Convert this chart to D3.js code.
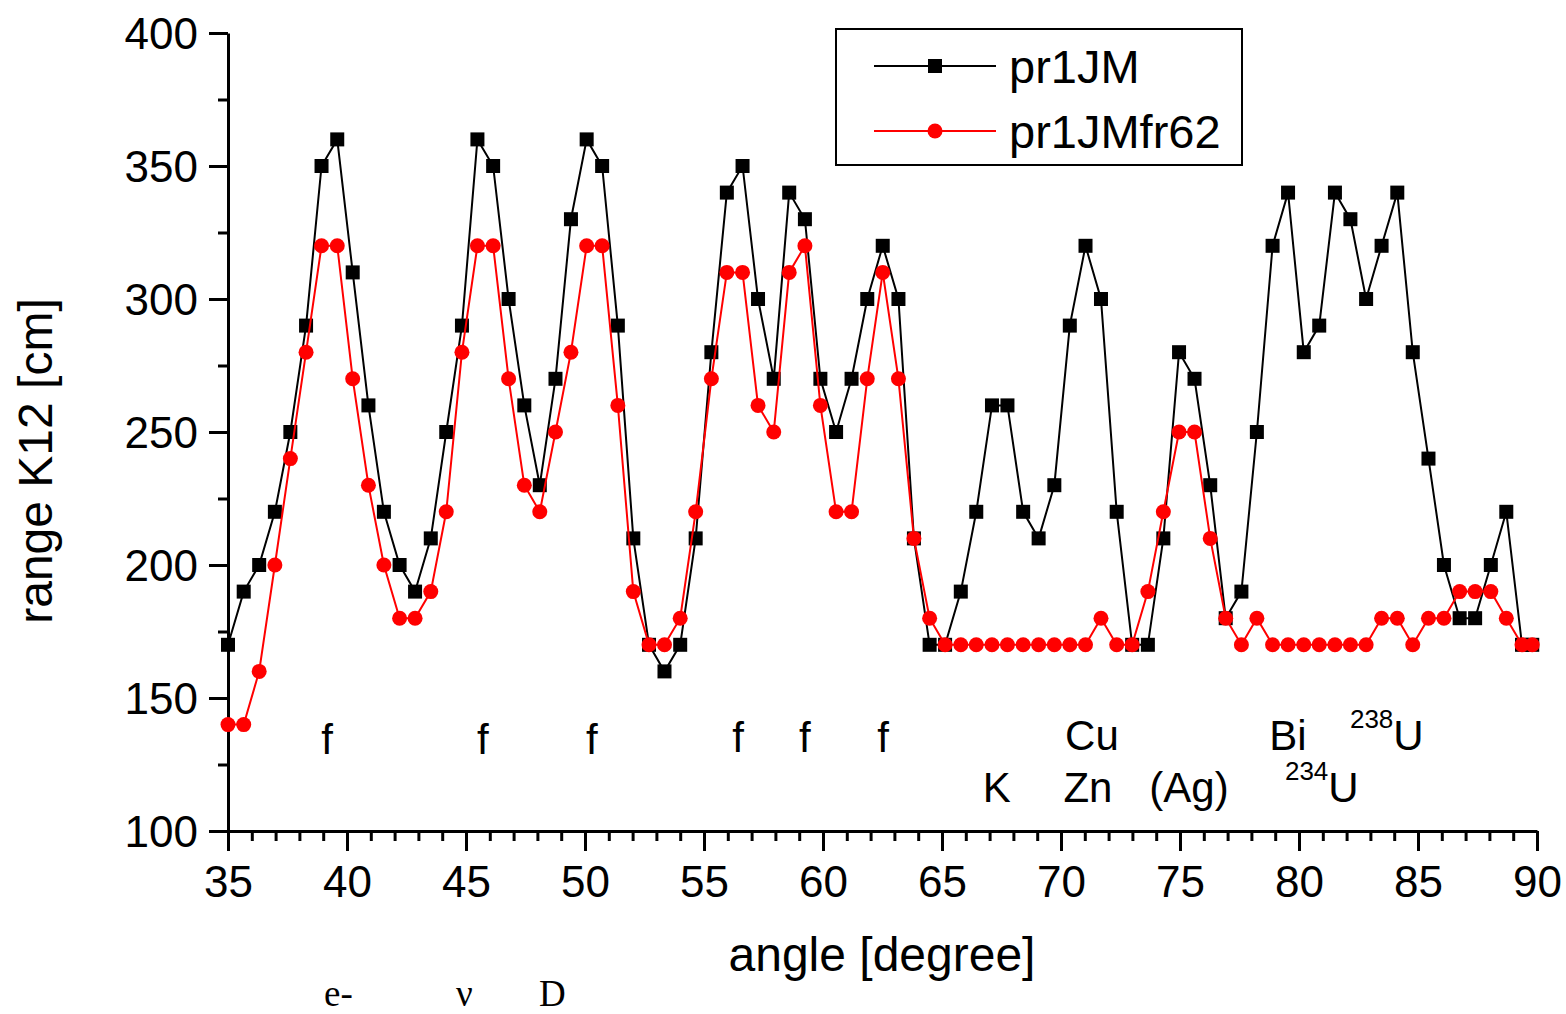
<!DOCTYPE html>
<html>
<head>
<meta charset="utf-8">
<script src="https://cdn.jsdelivr.net/npm/d3@7"></script>
<style>
  html, body { margin: 0; padding: 0; background: #fff; }
  svg { display: block; }
  text { font-family: "Liberation Sans", Arial, sans-serif; fill: #000; }
  text.serif { font-family: "Liberation Serif", "Times New Roman", serif; }
</style>
</head>
<body>
<svg id="chart" width="1566" height="1014"></svg>
<script>
// ---- data ----
const angles = [35.00, 35.66, 36.31, 36.97, 37.62, 38.28, 38.93, 39.59, 40.24, 40.90,
  41.55, 42.21, 42.86, 43.52, 44.17, 44.83, 45.48, 46.14, 46.79, 47.45,
  48.10, 48.76, 49.41, 50.07, 50.72, 51.38, 52.03, 52.69, 53.34, 54.00,
  54.65, 55.31, 55.96, 56.62, 57.27, 57.93, 58.58, 59.24, 59.89, 60.55,
  61.20, 61.86, 62.51, 63.17, 63.82, 64.48, 65.13, 65.79, 66.44, 67.10,
  67.75, 68.41, 69.06, 69.72, 70.37, 71.03, 71.68, 72.34, 72.99, 73.65,
  74.30, 74.96, 75.61, 76.27, 76.92, 77.58, 78.23, 78.89, 79.54, 80.20,
  80.85, 81.51, 82.16, 82.82, 83.47, 84.13, 84.78, 85.44, 86.09, 86.75,
  87.40, 88.06, 88.71, 89.37, 89.80];

const pr1JM = [170, 190, 200, 220, 250, 290, 350, 360, 310, 260,
  220, 200, 190, 210, 250, 290, 360, 350, 300, 260,
  230, 270, 330, 360, 350, 290, 210, 170, 160, 170,
  210, 280, 340, 350, 300, 270, 340, 330, 270, 250,
  270, 300, 320, 300, 210, 170, 170, 190, 220, 260,
  260, 220, 210, 230, 290, 320, 300, 220, 170, 170,
  210, 280, 270, 230, 180, 190, 250, 320, 340, 280,
  290, 340, 330, 300, 320, 340, 280, 240, 200, 180,
  180, 200, 220, 170, 170];

const pr1JMfr62 = [140, 140, 160, 200, 240, 280, 320, 320, 270, 230,
  200, 180, 180, 190, 220, 280, 320, 320, 270, 230,
  220, 250, 280, 320, 320, 260, 190, 170, 170, 180,
  220, 270, 310, 310, 260, 250, 310, 320, 260, 220,
  220, 270, 310, 270, 210, 180, 170, 170, 170, 170,
  170, 170, 170, 170, 170, 170, 180, 170, 170, 190,
  220, 250, 250, 210, 180, 170, 180, 170, 170, 170,
  170, 170, 170, 170, 180, 180, 170, 180, 180, 190,
  190, 190, 180, 170, 170];

const seriesNames = ["pr1JM", "pr1JMfr62"];
const xTicks = [35, 40, 45, 50, 55, 60, 65, 70, 75, 80, 85, 90];
const yTicks = [100, 150, 200, 250, 300, 350, 400];

// annotation labels (angle, range) in data units
const fLabels = [[39.16, 128.9], [45.71, 128.9], [50.29, 128.9], [56.43, 129.7], [59.24, 129.7], [62.52, 129.7]];
const elementLabels = [
  { t: "Cu", a: 71.30, r: 130.3 },
  { t: "Bi", a: 79.54, r: 130.3 },
  { t: "K", a: 67.30, r: 110.9 },
  { t: "Zn", a: 71.13, r: 110.9 },
  { t: "(Ag)", a: 75.38, r: 110.9 }
];
const isotopeLabels = [
  { mass: "238", el: "U", a: 82.14, r: 130.3 },
  { mass: "234", el: "U", a: 79.41, r: 110.9 }
];
const bottomSymbols = ["e-", "ν", "D"];

// ---- layout ----
const svg = d3.select("#chart");
const x = d3.scaleLinear().domain([35, 90]).range([228, 1537]);
const y = d3.scaleLinear().domain([100, 400]).range([831, 33]);

// minor ticks
const xMinor = d3.range(35, 90.001, 1).filter(v => !xTicks.includes(v));
const yMinor = d3.range(100, 400.001, 25).filter(v => !yTicks.includes(v));

const gx = svg.append("g").attr("transform", "translate(0,831)");
gx.call(d3.axisBottom(x).tickValues(xTicks).tickSize(20).tickSizeOuter(0).tickPadding(14).tickFormat(d3.format("d")));
gx.append("g").call(d3.axisBottom(x).tickValues(xMinor).tickSize(10).tickFormat("")).select(".domain").remove();

const gy = svg.append("g").attr("transform", "translate(228,0)");
gy.call(d3.axisLeft(y).tickValues(yTicks).tickSize(19).tickSizeOuter(0).tickPadding(11).tickFormat(d3.format("d")));
gy.append("g").call(d3.axisLeft(y).tickValues(yMinor).tickSize(10).tickFormat("")).select(".domain").remove();

svg.selectAll(".domain, .tick line").attr("stroke", "#000").attr("stroke-width", 3);
svg.selectAll(".tick text").attr("font-size", 44).attr("fill", "#000");
gx.selectAll(".tick text").attr("dy", "0.72em");
gy.selectAll(".tick text").attr("dy", "0.35em");

// axis titles
svg.append("text").attr("x", 882).attr("y", 971).attr("text-anchor", "middle")
  .attr("font-size", 48).text("angle [degree]");
svg.append("text").attr("transform", "translate(52,461) rotate(-90)").attr("text-anchor", "middle")
  .attr("font-size", 48).text("range K12 [cm]");

// series
const line = d3.line().x((d, i) => x(angles[i])).y(d => y(d));

svg.append("path").datum(pr1JM).attr("d", line)
  .attr("fill", "none").attr("stroke", "#000").attr("stroke-width", 2);
svg.append("g").selectAll("rect").data(pr1JM).join("rect")
  .attr("x", (d, i) => x(angles[i]) - 7).attr("y", d => y(d) - 7)
  .attr("width", 14).attr("height", 14).attr("fill", "#000");

svg.append("path").datum(pr1JMfr62).attr("d", line)
  .attr("fill", "none").attr("stroke", "#ff0000").attr("stroke-width", 2);
svg.append("g").selectAll("circle").data(pr1JMfr62).join("circle")
  .attr("cx", (d, i) => x(angles[i])).attr("cy", d => y(d))
  .attr("r", 7.5).attr("fill", "#ff0000");

// legend
const lg = svg.append("g");
lg.append("rect").attr("x", 836).attr("y", 29).attr("width", 406).attr("height", 136)
  .attr("fill", "#fff").attr("stroke", "#000").attr("stroke-width", 2);
const legendRows = [
  { name: seriesNames[0], color: "#000", shape: "square", cy: 66 },
  { name: seriesNames[1], color: "#ff0000", shape: "circle", cy: 131 }
];
legendRows.forEach(r => {
  lg.append("line").attr("x1", 874).attr("x2", 996).attr("y1", r.cy).attr("y2", r.cy)
    .attr("stroke", r.color).attr("stroke-width", 2);
  if (r.shape === "square") {
    lg.append("rect").attr("x", 935 - 7).attr("y", r.cy - 7).attr("width", 14).attr("height", 14).attr("fill", r.color);
  } else {
    lg.append("circle").attr("cx", 935).attr("cy", r.cy).attr("r", 7.5).attr("fill", r.color);
  }
  lg.append("text").attr("x", 1009).attr("y", r.cy + 17).attr("font-size", 47).text(r.name);
});

// annotations
svg.append("g").selectAll("text").data(fLabels).join("text")
  .attr("x", d => x(d[0])).attr("y", d => y(d[1])).attr("text-anchor", "middle")
  .attr("font-size", 42).text("f");
svg.append("g").selectAll("text").data(elementLabels).join("text")
  .attr("x", d => x(d.a)).attr("y", d => y(d.r)).attr("text-anchor", "middle")
  .attr("font-size", 42).text(d => d.t);
isotopeLabels.forEach(d => {
  const t = svg.append("text").attr("x", x(d.a)).attr("y", y(d.r)).attr("font-size", 42);
  t.append("tspan").attr("font-size", 26).attr("dy", -22).text(d.mass);
  t.append("tspan").attr("dy", 22).text(d.el);
});

// bottom symbols (serif)
const symX = [324, 456, 539];
bottomSymbols.forEach((s, i) => {
  svg.append("text").attr("class", "serif").attr("x", symX[i]).attr("y", 1006)
    .attr("font-size", 37).text(s);
});
</script>
</body>
</html>
